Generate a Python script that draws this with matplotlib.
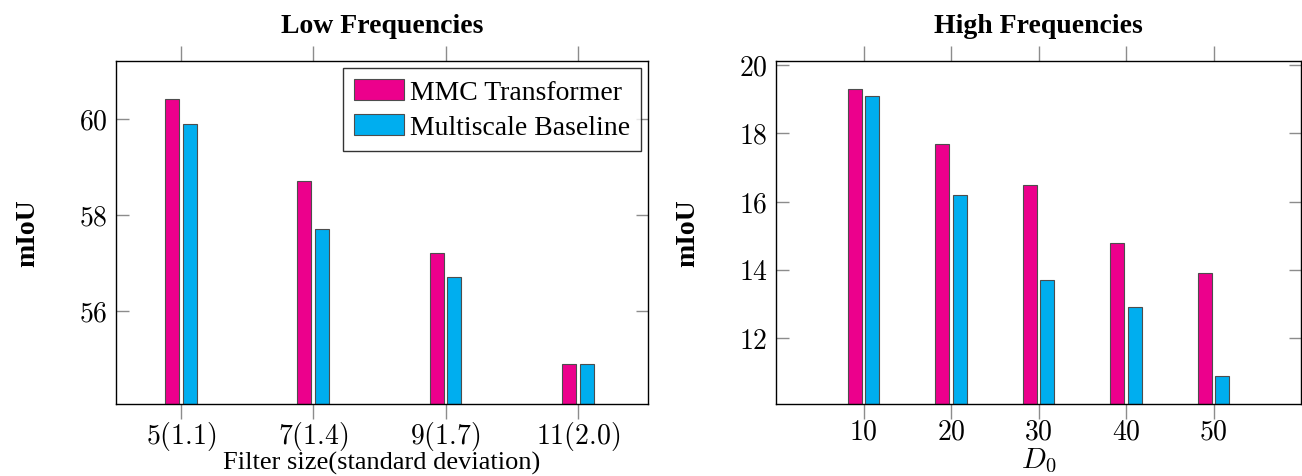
import numpy as np
import matplotlib
matplotlib.use("Agg")
from matplotlib import pyplot as plt

plt.rcParams['mathtext.fontset'] = 'cm'
plt.rcParams['font.family'] = ['Liberation Serif', 'DejaVu Serif']

# Low frequencies panel
lowLabels = ['5(1.1)', '7(1.4)', '9(1.7)', '11(2.0)']
lowMmc = [60.4, 58.7, 57.2, 54.9]
lowBaseline = [59.9, 57.7, 56.7, 54.9]

# High frequencies panel
highD0 = [10, 20, 30, 40, 50]
highMmc = [19.3, 17.7, 16.5, 14.8, 13.9]
highBaseline = [19.1, 16.2, 13.7, 12.9, 10.9]

magenta = '#EC008C'
cyan = '#00AEEF'
edge = '#4d4d4d'
tickGray = '#8c8c8c'
fs = 20

fig = plt.figure(figsize=(13.02, 4.77), dpi=100)
W, H = 1302, 477
axLow = fig.add_axes([116 / W, (H - 405) / H, (648 - 116) / W, (405 - 62) / H])
axHigh = fig.add_axes([776 / W, (H - 405) / H, (1301 - 776) / W, (405 - 62) / H])


def styleAxes(ax):
    for s in ax.spines.values():
        s.set_color('black')
        s.set_linewidth(1.0)
    ax.tick_params(axis='x', which='major', direction='out', length=11, width=1,
                   color=tickGray, top=True, bottom=True, labeltop=False,
                   labelsize=fs, pad=0)
    ax.tick_params(axis='y', which='major', direction='in', length=9, width=1,
                   color=tickGray, left=True, right=True, labelsize=fs, pad=6)


# ---- Low frequencies
pos = np.arange(len(lowLabels))
width = 0.106
axLow.bar(pos - 0.066, np.array(lowMmc) - 54.07, width, bottom=54.07, color=magenta,
          edgecolor=edge, linewidth=0.8, label='MMC Transformer')
axLow.bar(pos + 0.066, np.array(lowBaseline) - 54.07, width, bottom=54.07, color=cyan,
          edgecolor=edge, linewidth=0.8, label='Multiscale Baseline')
axLow.set_xlim(-0.49, 3.53)
axLow.set_ylim(54.07, 61.2)
axLow.set_xticks(pos)
axLow.set_xticklabels(['$' + s + '$' for s in lowLabels])
axLow.set_yticks([56, 58, 60])
axLow.set_yticklabels(['$56$', '$58$', '$60$'])
styleAxes(axLow)
axLow.set_title('Low Frequencies', fontsize=fs, fontweight='bold', pad=21)
axLow.set_xlabel('Filter size(standard deviation)', fontsize=19, labelpad=-1)
axLow.set_ylabel('mIoU', fontsize=fs, fontweight='bold', labelpad=28)
leg = axLow.legend(loc='upper right', fontsize=fs, frameon=True, fancybox=False,
                   edgecolor='black', handlelength=1.8, handleheight=0.8,
                   handletextpad=0.2, borderpad=0.4, labelspacing=0.3,
                   borderaxespad=0.25)
leg.get_frame().set_linewidth(1.0)

# ---- High frequencies
hw = 1.6
axHigh.bar(np.array(highD0) - 1.0, np.array(highMmc) - 10.07, hw, bottom=10.07,
           color=magenta, edgecolor=edge, linewidth=0.8)
axHigh.bar(np.array(highD0) + 1.0, np.array(highBaseline) - 10.07, hw, bottom=10.07,
           color=cyan, edgecolor=edge, linewidth=0.8)
axHigh.set_xlim(0, 60)
axHigh.set_ylim(10.07, 20.12)
axHigh.set_xticks(highD0)
axHigh.set_xticklabels(['$%d$' % d for d in highD0])
axHigh.set_yticks([12, 14, 16, 18, 20])
axHigh.set_yticklabels(['$%d$' % v for v in [12, 14, 16, 18, 20]])
styleAxes(axHigh)
axHigh.set_title('High Frequencies', fontsize=fs, fontweight='bold', pad=21)
axHigh.set_xlabel('$D_0$', fontsize=fs + 1, labelpad=1)
axHigh.set_ylabel('mIoU', fontsize=fs, fontweight='bold', labelpad=28)

fig.savefig('out.png', dpi=100)
